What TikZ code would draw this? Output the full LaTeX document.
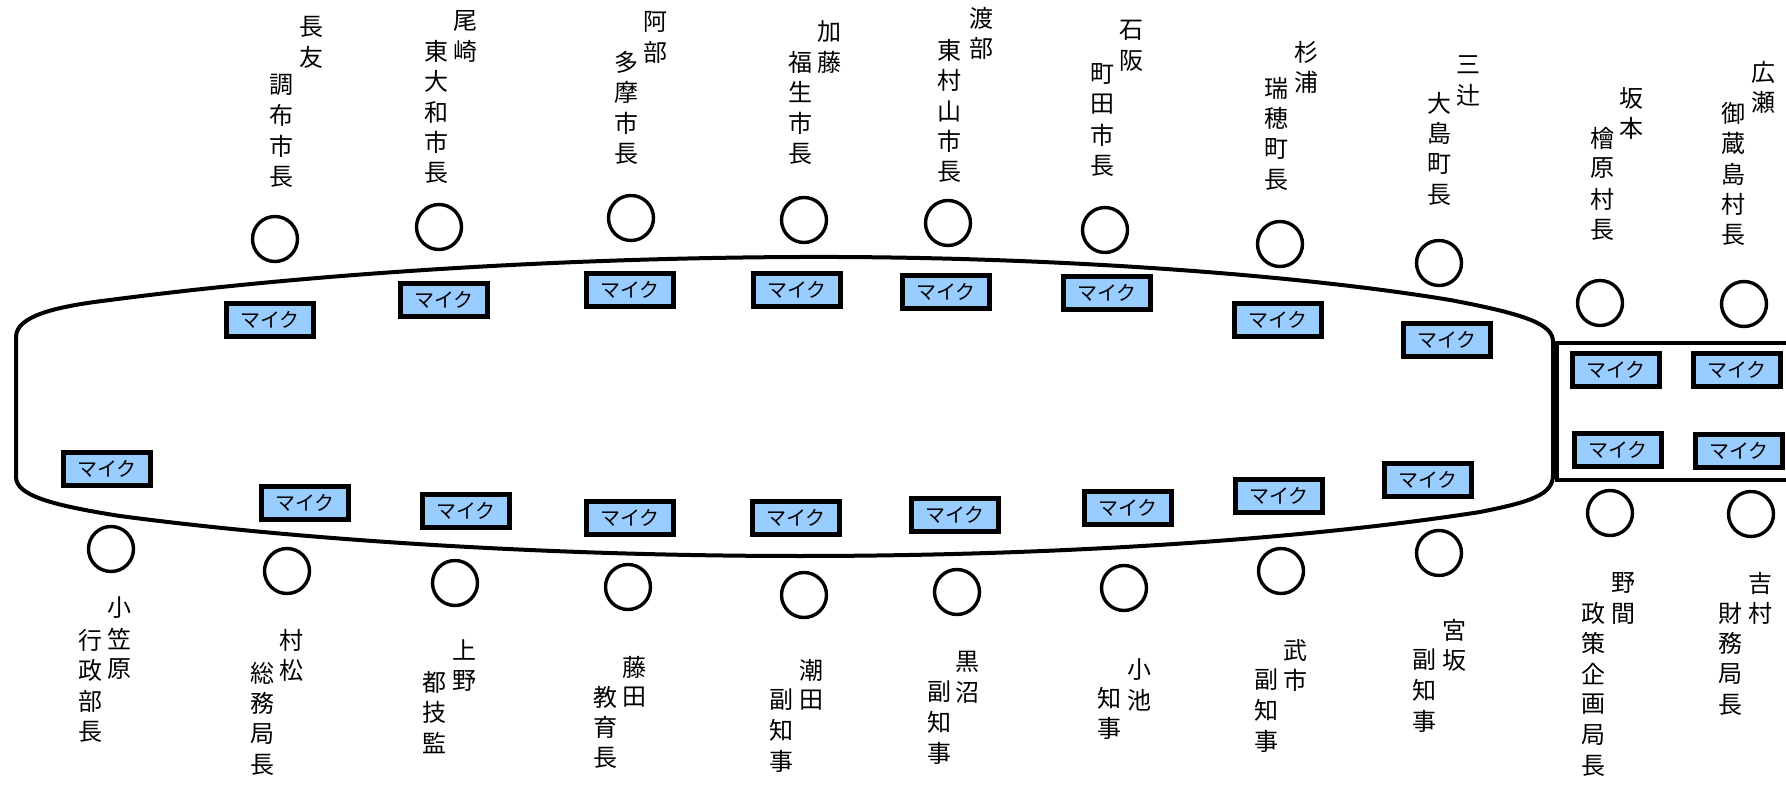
\documentclass[tikz,border=0pt]{standalone}
\usepackage{fontspec}
\setmainfont{Noto Sans CJK JP}
\definecolor{micblue}{RGB}{153,204,255}
\tikzset{
  seat/.style={circle, draw, line width=1.7pt, minimum size=22.5pt, inner sep=0pt},
  mic/.style={draw, line width=2.3pt, fill=micblue, minimum width=43.75pt, minimum height=16.25pt, inner sep=0pt, font=\fontsize{10}{11}\selectfont},
  lbl/.style={inner sep=0pt, font=\fontsize{12}{12}\selectfont},
  outline/.style={line width=2pt}
}
\newcommand\vcol[4]{\foreach \ch [count=\k] in {#4} {\node[lbl] (#1-\k) at (#2,{#3+30.5*(\k-1)}) {\ch};}}
\begin{document}
\begin{tikzpicture}[x=0.5pt,y=-0.5pt]
\useasboundingbox (0,0) rectangle (1786,785);
% table outline
\draw[outline] (16,477) -- (16,337)
  .. controls (16,315) and (60,306) .. (110,300)
  .. controls (300,275) and (550,258) .. (800,257)
  .. controls (1050,256) and (1300,275) .. (1450,300)
  .. controls (1530,315) and (1553,325) .. (1553,342)
  -- (1553,475)
  .. controls (1553,495) and (1530,502) .. (1480,512)
  .. controls (1300,540) and (1050,556) .. (800,556)
  .. controls (550,556) and (300,540) .. (120,516)
  .. controls (50,505) and (16,495) .. (16,477) -- cycle;
\draw[outline] (1800,343) -- (1557,343) -- (1557,480) -- (1800,480);
% top seats
\node[seat] (s1) at (275,239) {};
\node[seat] (s2) at (439,227) {};
\node[seat] (s3) at (631,218) {};
\node[seat] (s4) at (804,220) {};
\node[seat] (s5) at (948,223) {};
\node[seat] (s6) at (1105,230) {};
\node[seat] (s7) at (1280,244) {};
\node[seat] (s8) at (1439,263) {};
\node[seat] (s9) at (1600,303) {};
\node[seat] (s10) at (1744,304) {};
% bottom seats
\node[seat] (b1) at (111,549) {};
\node[seat] (b2) at (287,571) {};
\node[seat] (b3) at (455,583) {};
\node[seat] (b4) at (628,587) {};
\node[seat] (b5) at (804,595) {};
\node[seat] (b6) at (957,592) {};
\node[seat] (b7) at (1124,588) {};
\node[seat] (b8) at (1281,571) {};
\node[seat] (b9) at (1439,553) {};
\node[seat] (b10) at (1610,513) {};
\node[seat] (b11) at (1751,514) {};
% microphones
\node[mic] (m1) at (270,320) {マイク};
\node[mic] (m2) at (444,300) {マイク};
\node[mic] (m3) at (630,290) {マイク};
\node[mic] (m4) at (797,290) {マイク};
\node[mic] (m5) at (946,292) {マイク};
\node[mic] (m6) at (1107,293) {マイク};
\node[mic] (m7) at (1278,320) {マイク};
\node[mic] (m8) at (1447,340) {マイク};
\node[mic] (m9) at (1616,370) {マイク};
\node[mic] (m10) at (1737,370) {マイク};
\node[mic] (m11) at (1618,450) {マイク};
\node[mic] (m12) at (1739,451) {マイク};
\node[mic] (n1) at (107,469) {マイク};
\node[mic] (n2) at (305,503) {マイク};
\node[mic] (n3) at (466,511) {マイク};
\node[mic] (n4) at (630,518) {マイク};
\node[mic] (n5) at (796,518) {マイク};
\node[mic] (n6) at (955,515) {マイク};
\node[mic] (n7) at (1128,508) {マイク};
\node[mic] (n8) at (1279,496) {マイク};
\node[mic] (n9) at (1428,480) {マイク};
% top labels
\vcol{tn1}{311}{27}{長,友} \vcol{tt1}{281}{85}{調,布,市,長}
\vcol{tn2}{465}{21}{尾,崎} \vcol{tt2}{436}{51}{東,大,和,市,長}
\vcol{tn3}{655}{22}{阿,部} \vcol{tt3}{626}{62}{多,摩,市,長}
\vcol{tn4}{829}{32}{加,藤} \vcol{tt4}{800}{62}{福,生,市,長}
\vcol{tn5}{981}{18}{渡,部} \vcol{tt5}{949}{50}{東,村,山,市,長}
\vcol{tn6}{1131}{30}{石,阪} \vcol{tt6}{1102}{74}{町,田,市,長}
\vcol{tn7}{1306}{52}{杉,浦} \vcol{tt7}{1276}{88}{瑞,穂,町,長}
\vcol{tn8}{1468}{65}{三,辻} \vcol{tt8}{1439}{103}{大,島,町,長}
\vcol{tn9}{1631}{98}{坂,本} \vcol{tt9}{1602}{138}{檜,原,村,長}
\vcol{tn10}{1763}{72}{広,瀬} \vcol{tt10}{1733}{113}{御,蔵,島,村,長}
% bottom labels
\vcol{bn1}{119}{608}{小,笠,原} \vcol{bt1}{90}{640}{行,政,部,長}
\vcol{bn2}{291}{640}{村,松} \vcol{bt2}{262}{673}{総,務,局,長}
\vcol{bn3}{464}{650}{上,野} \vcol{bt3}{434}{682}{都,技,監}
\vcol{bn4}{634}{667}{藤,田} \vcol{bt4}{605}{697}{教,育,長}
\vcol{bn5}{811}{670}{潮,田} \vcol{bt5}{781}{700}{副,知,事}
\vcol{bn6}{967}{662}{黒,沼} \vcol{bt6}{939}{692}{副,知,事}
\vcol{bn7}{1139}{670}{小,池} \vcol{bt7}{1109}{698}{知,事}
\vcol{bn8}{1295}{650}{武,市} \vcol{bt8}{1266}{680}{副,知,事}
\vcol{bn9}{1454}{630}{宮,坂} \vcol{bt9}{1424}{660}{副,知,事}
\vcol{bn10}{1623}{583}{野,間} \vcol{bt10}{1593}{613}{政,策,企,画,局,長}
\vcol{bn11}{1760}{583}{吉,村} \vcol{bt11}{1730}{613}{財,務,局,長}
\end{tikzpicture}
\end{document}
